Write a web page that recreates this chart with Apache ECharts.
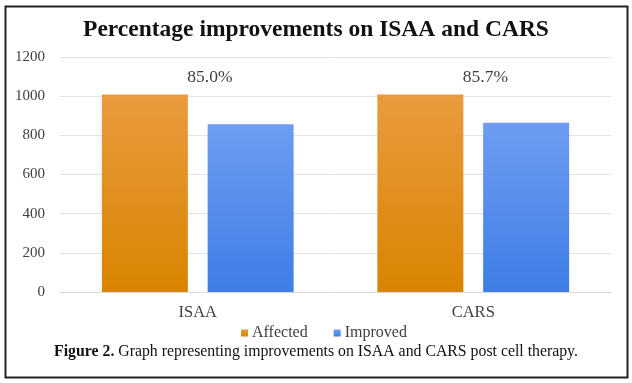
<!DOCTYPE html>
<html>
<head>
<meta charset="utf-8">
<script src="https://cdn.jsdelivr.net/npm/echarts@6/dist/echarts.min.js"></script>
<style>html,body{margin:0;padding:0;background:#fff;}#c{width:632px;height:383px;}</style>
</head>
<body>
<div id="c"></div>
<script>
const categories = ['ISAA', 'CARS'];
const affected = [1008, 1008];
const improved = [857, 864];
const percentLabels = ['85.0%', '85.7%'];
const yTicks = [0, 200, 400, 600, 800, 1000, 1200];

const serif = '"Liberation Serif", "Times New Roman", serif';
const chart = echarts.init(document.getElementById('c'));
chart.setOption({
  backgroundColor: '#fff',
  animation: false,
  title: {
    text: 'Percentage improvements on ISAA and CARS',
    left: 'center', top: 13,
    textStyle: { fontFamily: serif, fontWeight: 'bold', fontSize: 23.5, color: '#111' }
  },
  legend: {
    data: ['Affected', 'Improved'],
    bottom: 37, left: 236,
    itemWidth: 7, itemHeight: 7, itemGap: 26,
    icon: 'rect',
    textStyle: { fontFamily: serif, fontSize: 16, color: '#404040', padding: [0, 0, 0, -1] }
  },
  grid: { left: 60, right: 21, top: 57, bottom: 91, containLabel: false },
  xAxis: {
    type: 'category', data: categories,
    axisLine: { lineStyle: { color: '#d9d9d9' } },
    axisTick: { show: false },
    axisLabel: { fontFamily: serif, fontSize: 16.5, color: '#404040', margin: 12 }
  },
  yAxis: {
    type: 'value', min: yTicks[0], max: yTicks[yTicks.length - 1], interval: 200,
    axisLine: { show: false }, axisTick: { show: false },
    axisLabel: { fontFamily: serif, fontSize: 15, color: '#404040', margin: 15,
      formatter: v => String(v) },
    splitLine: { lineStyle: { color: '#e3e3e3' } }
  },
  series: [
    {
      name: 'Affected', type: 'bar', data: affected, barWidth: 86, barGap: '23%',
      itemStyle: { color: new echarts.graphic.LinearGradient(0, 0, 0, 1, [
        { offset: 0, color: '#E99B3E' }, { offset: 1, color: '#D98400' }]) },
      label: {
        show: true, position: 'top', distance: 6, offset: [65, -2],
        formatter: p => percentLabels[p.dataIndex],
        fontFamily: serif, fontSize: 17.5, color: '#404040'
      }
    },
    {
      name: 'Improved', type: 'bar', data: improved, barWidth: 86,
      itemStyle: { color: new echarts.graphic.LinearGradient(0, 0, 0, 1, [
        { offset: 0, color: '#6E9CF2' }, { offset: 1, color: '#3E7EE6' }]) }
    }
  ],
  graphic: [
    { type: 'rect', left: 3, top: 4, shape: { width: 622, height: 371 },
      style: { fill: 'none', stroke: '#222', lineWidth: 2 }, silent: true },
    { type: 'text', left: 'center', top: 344,
      style: {
        text: '{b|Figure 2.} Graph representing improvements on ISAA and CARS post cell therapy.',
        fontFamily: serif, fontSize: 15.8, fill: '#111',
        rich: { b: { fontFamily: serif, fontSize: 15.8, fontWeight: 'bold', fill: '#111' } }
      } }
  ]
});
</script>
</body>
</html>
